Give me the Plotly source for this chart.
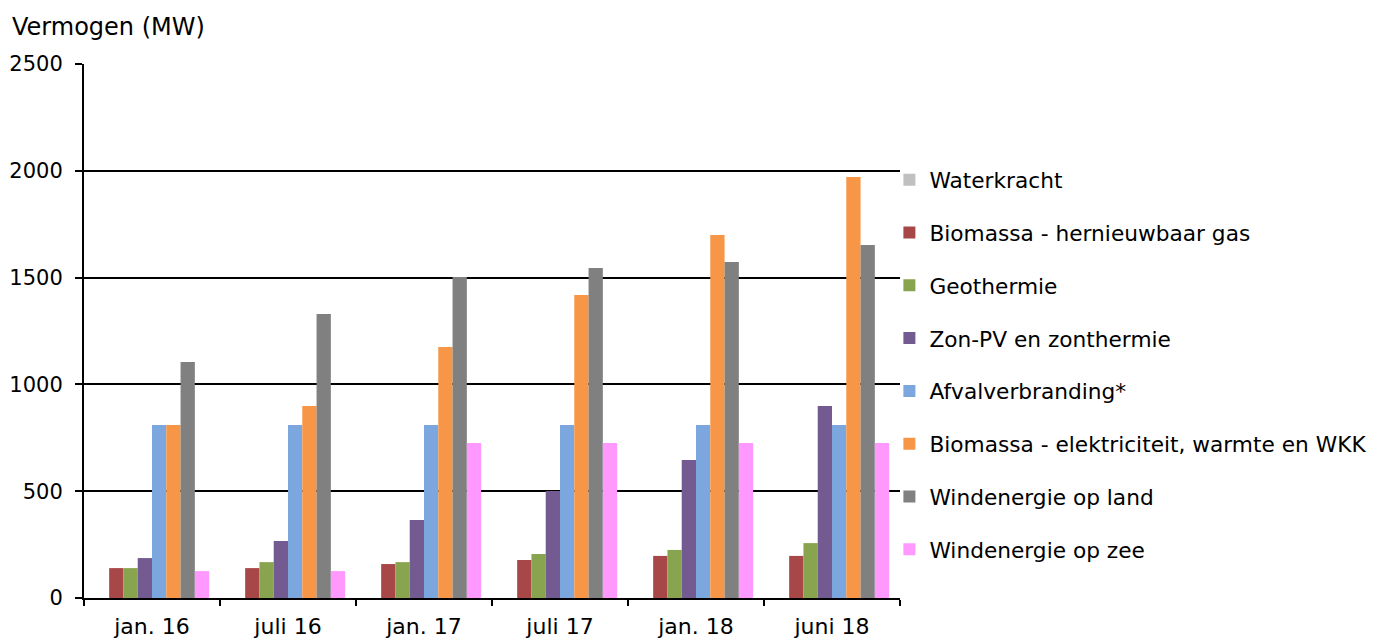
import plotly.graph_objects as go

categories = ["jan. 16", "juli 16", "jan. 17", "juli 17", "jan. 18", "juni 18"]

waterkracht = [0, 0, 0, 0, 0, 0]
biomassa_gas = [140, 140, 159, 178, 197, 197]
geothermie = [140, 168, 168, 206, 225, 257]
zon = [187, 267, 365, 501, 646, 899]
afval = [810, 810, 810, 810, 810, 810]
biomassa_ewk = [810, 899, 1175, 1419, 1699, 1971]
wind_land = [1105, 1330, 1503, 1545, 1573, 1653]
wind_zee = [126, 126, 726, 726, 726, 726]

series = [
    ("Waterkracht", waterkracht, "#C0C0C0"),
    ("Biomassa - hernieuwbaar gas", biomassa_gas, "#A84747"),
    ("Geothermie", geothermie, "#88A44F"),
    ("Zon-PV en zonthermie", zon, "#735A91"),
    ("Afvalverbranding*", afval, "#7BA7DE"),
    ("Biomassa - elektriciteit, warmte en WKK", biomassa_ewk, "#F79646"),
    ("Windenergie op land", wind_land, "#808080"),
    ("Windenergie op zee", wind_zee, "#FF99FF"),
]

fig = go.Figure()
for i, (name, vals, col) in enumerate(series):
    fig.add_trace(go.Bar(x=categories, y=vals, name=name, marker_color=col,
                         marker_line_width=0, legendgroup=str(i)))

font = "DejaVu Sans, Verdana, sans-serif"
W, H = 1375, 638
L, T = 84, 64
R = W - (L + 816)
B = H - (T + 534)
fig.update_layout(
    width=W, height=H,
    barmode="group", bargap=0.16, bargroupgap=0,
    plot_bgcolor="white", paper_bgcolor="white",
    margin=dict(l=L, r=R, t=T, b=B, autoexpand=False),
    font=dict(family=font, size=22, color="black"),
    legend=dict(x=0.987, y=0.822, xanchor="left", yanchor="top",
                font=dict(size=21.7), traceorder="grouped", tracegroupgap=21.6,
                itemwidth=30, bgcolor="rgba(0,0,0,0)"),
    annotations=[dict(text="Vermogen (MW)", xref="paper", yref="paper",
                      x=-(L - 10) / 816, y=1 + 37 / 534, xanchor="left", yanchor="middle",
                      showarrow=False, font=dict(size=24))],
)
fig.update_xaxes(showline=True, linecolor="black", linewidth=2,
                 ticks="outside", tickson="boundaries", ticklen=6, tickwidth=2,
                 tickcolor="black", tickfont=dict(size=22), showgrid=False,
                 ticklabelstandoff=8)
fig.update_yaxes(range=[0, 2500], dtick=500, showline=True, linecolor="black",
                 linewidth=2, ticks="outside", ticklen=7, tickwidth=2,
                 tickcolor="black", showgrid=True, gridcolor="black", gridwidth=2,
                 tickfont=dict(size=21), zeroline=False, ticklabelstandoff=8)
fig.write_html("out.html", config={"displayModeBar": False},
               post_script="document.body.style.margin='0px';")
